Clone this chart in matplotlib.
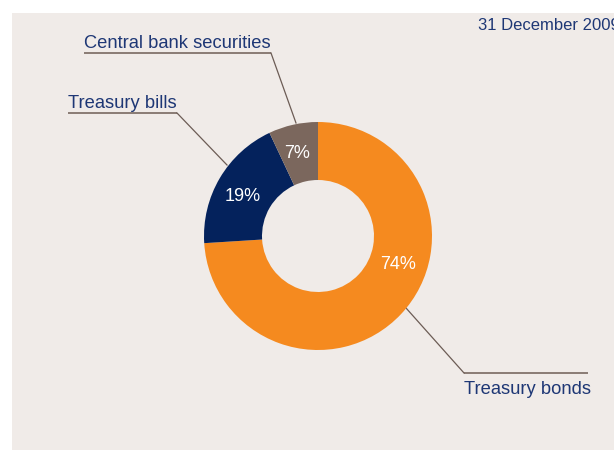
import numpy as np
import matplotlib
matplotlib.use("Agg")
import matplotlib.pyplot as plt
from matplotlib.patches import Rectangle

# portfolio split at year end
labels = ["Treasury bonds", "Treasury bills", "Central bank securities"]
shares = [74, 19, 7]
colors = ["#f58a1f", "#04225c", "#7b675d"]
pct_angles = [-19.5, 152.0, 104.0]   # where each percentage sits on the ring
date_label = "31 December 2009"

W, H = 614, 450
NAVY = "#1e3775"
LEADER = "#6c5c55"

plt.rcParams["font.family"] = ["Liberation Sans", "DejaVu Sans"]

fig = plt.figure(figsize=(W / 100, H / 100), dpi=100)
fig.patch.set_facecolor("white")
ax = fig.add_axes([0, 0, 1, 1])

# light panel behind the chart
ax.add_patch(Rectangle((12, 0), W - 12, H - 13, facecolor="#f0ebe8", edgecolor="none", zorder=0))

cx, cy, r_out = 318, H - 236, 114
width = 58
wedges, _ = ax.pie(shares, colors=colors, startangle=90, counterclock=False,
                   center=(cx, cy), radius=r_out, frame=True,
                   wedgeprops=dict(width=width, edgecolor="none"))
for w in wedges:
    w.set_zorder(2)

r_txt = r_out - width / 2
for val, ang in zip(shares, pct_angles):
    a = np.deg2rad(ang)
    ax.text(cx + r_txt * np.cos(a), cy + r_txt * np.sin(a), f"{val}%",
            color="white", fontsize=13, ha="center", va="center", zorder=3)

# leader lines with underlined captions
def caption(text, x0, x1, y_line, tip, below=False):
    ax.plot([x0, x1], [H - y_line, H - y_line], color="#8a7b74", lw=1.4,
            solid_capstyle="butt", zorder=1)
    ax.plot([tip[0][0], tip[1][0]], [H - tip[0][1], H - tip[1][1]],
            color=LEADER, lw=0.9, zorder=1)
    ty = H - y_line - 16 if below else H - y_line + 10
    ax.text(x0, ty, text, color=NAVY, fontsize=13.2, ha="left", va="center", zorder=3)

caption(labels[2], 84, 271, 53, ((271, 53), (296, 123)))
caption(labels[1], 68, 177, 113, ((177, 113), (227, 165)))
caption(labels[0], 464, 588, 373, ((406, 308), (464, 373)), below=True)

ax.text(478, H - 25, date_label, color=NAVY, fontsize=12, ha="left", va="center")

ax.set_xlim(0, W)
ax.set_ylim(0, H)
ax.set_aspect("auto")
ax.axis("off")

fig.savefig("out.png", dpi=100, facecolor=fig.get_facecolor())
